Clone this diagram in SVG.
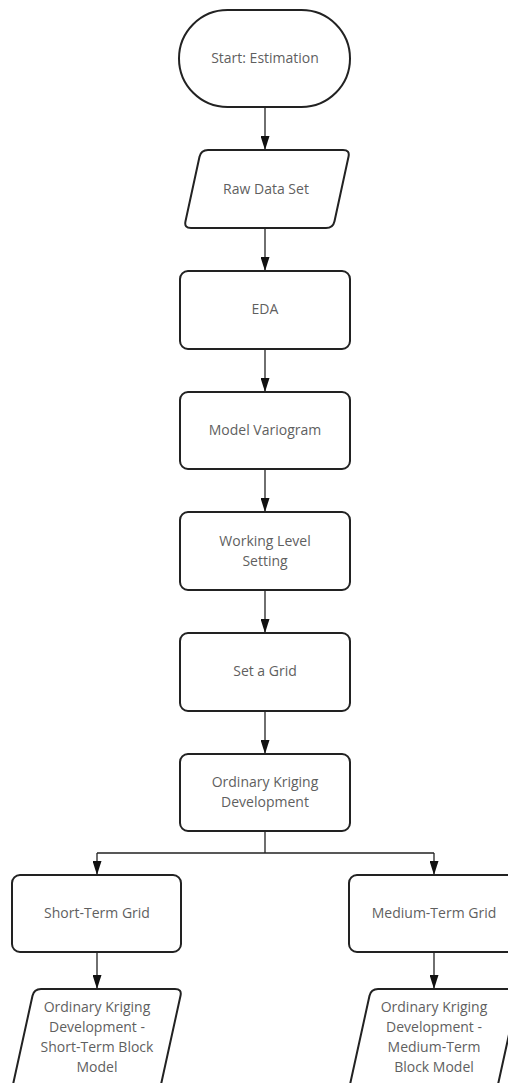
<svg xmlns="http://www.w3.org/2000/svg" width="508" height="1083" viewBox="0 0 508 1083">
<defs>
<style>
.n{fill:#fff;stroke:#222;stroke-width:2}
.t{font-family:"Open Sans","Liberation Sans",sans-serif;font-size:14px;fill:#5f5f5f;text-anchor:middle}
.c{fill:none;stroke:#222;stroke-width:1.3}
</style>
<marker id="ah" markerUnits="userSpaceOnUse" markerWidth="14" markerHeight="9" refX="14" refY="4.5" orient="auto">
<path d="M0,0 L14,4.5 L0,9 Z" fill="#111"/>
</marker>
</defs>
<rect width="508" height="1083" fill="#fff"/>
<g id="connectors">
<line class="c" x1="265" y1="107" x2="265" y2="150" marker-end="url(#ah)"/>
<line class="c" x1="265" y1="228" x2="265" y2="271" marker-end="url(#ah)"/>
<line class="c" x1="265" y1="349" x2="265" y2="392" marker-end="url(#ah)"/>
<line class="c" x1="265" y1="469" x2="265" y2="512" marker-end="url(#ah)"/>
<line class="c" x1="265" y1="590" x2="265" y2="633" marker-end="url(#ah)"/>
<line class="c" x1="265" y1="711" x2="265" y2="754" marker-end="url(#ah)"/>
<path class="c" d="M265,831 V853 M97,853 H434"/>
<line class="c" x1="97" y1="853" x2="97" y2="875" marker-end="url(#ah)"/>
<line class="c" x1="434" y1="853" x2="434" y2="875" marker-end="url(#ah)"/>
<line class="c" x1="97" y1="952" x2="97" y2="989" marker-end="url(#ah)"/>
<line class="c" x1="434" y1="952" x2="434" y2="989" marker-end="url(#ah)"/>
</g>
<g id="start">
<rect class="n" x="179" y="10" width="171" height="97" rx="48.5"/>
<text class="t" x="265" y="63">Start: Estimation</text>
</g>
<g id="raw">
<path class="n" d="M208,150 L343,150 Q350,150 348.5,156.8 L334.5,221.2 Q333,228 326,228 L191,228 Q184,228 185.5,221.2 L199.5,156.8 Q201,150 208,150 Z"/>
<text class="t" x="266" y="194">Raw Data Set</text>
</g>
<g id="eda">
<rect class="n" x="180" y="271" width="170" height="78" rx="8"/>
<text class="t" x="265" y="314">EDA</text>
</g>
<g id="variogram">
<rect class="n" x="180" y="392" width="170" height="77" rx="8"/>
<text class="t" x="265" y="435">Model Variogram</text>
</g>
<g id="working">
<rect class="n" x="180" y="512" width="170" height="78" rx="8"/>
<text class="t" x="265" y="546">Working Level</text>
<text class="t" x="265" y="566">Setting</text>
</g>
<g id="grid">
<rect class="n" x="180" y="633" width="170" height="78" rx="8"/>
<text class="t" x="265" y="676">Set a Grid</text>
</g>
<g id="kriging">
<rect class="n" x="180" y="754" width="170" height="77" rx="8"/>
<text class="t" x="265" y="787">Ordinary Kriging</text>
<text class="t" x="265" y="807">Development</text>
</g>
<g id="short">
<rect class="n" x="12" y="875" width="169" height="77" rx="8"/>
<text class="t" x="97" y="918">Short-Term Grid</text>
</g>
<g id="medium">
<rect class="n" x="349" y="875" width="170" height="77" rx="8"/>
<text class="t" x="434" y="918">Medium-Term Grid</text>
</g>
<g id="shortmodel">
<path class="n" d="M41,989 L175,989 Q182,989 180.5,995.8 L161.5,1082.2 Q160,1089 153,1089 L19,1089 Q12,1089 13.5,1082.2 L32.5,995.8 Q34,989 41,989 Z"/>
<text class="t" x="97" y="1012">Ordinary Kriging</text>
<text class="t" x="97" y="1032">Development -</text>
<text class="t" x="97" y="1052">Short-Term Block</text>
<text class="t" x="97" y="1072">Model</text>
</g>
<g id="mediummodel">
<path class="n" d="M378,989 L512,989 Q519,989 517.5,995.8 L498.5,1082.2 Q497,1089 490,1089 L356,1089 Q349,1089 350.5,1082.2 L369.5,995.8 Q371,989 378,989 Z"/>
<text class="t" x="434" y="1012">Ordinary Kriging</text>
<text class="t" x="434" y="1032">Development -</text>
<text class="t" x="434" y="1052">Medium-Term</text>
<text class="t" x="434" y="1072">Block Model</text>
</g>
</svg>
